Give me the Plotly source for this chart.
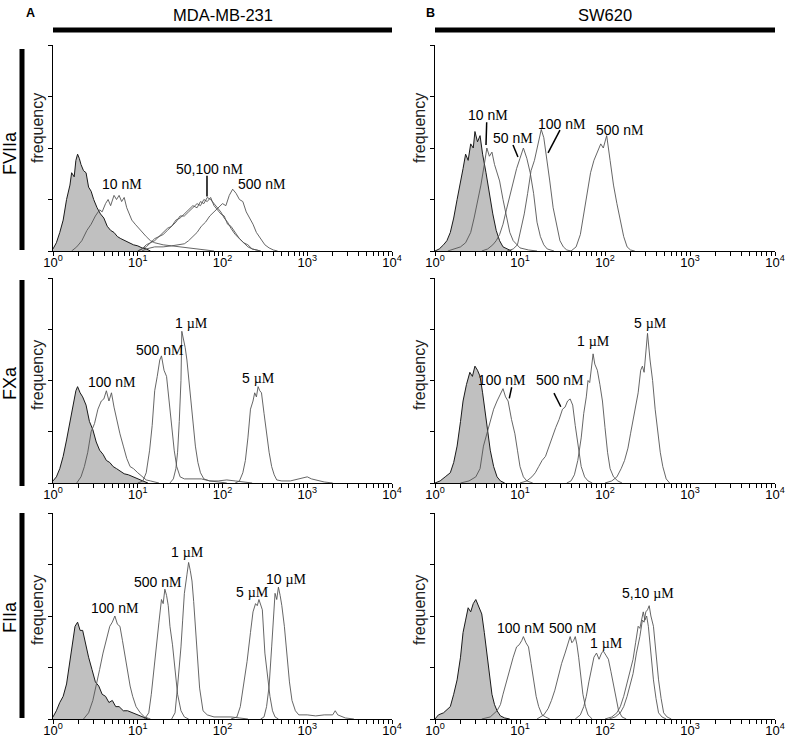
import plotly.graph_objects as go

# ---------------- data (log10 fluorescence, frequency) ----------------
# Row 1: FVIIa
ctrl_A1_lx = [0.0,0.04,0.08,0.12,0.16,0.20,0.22,0.25,0.27,0.29,0.31,0.33,0.36,0.39,0.42,0.45,0.48,0.52,0.56,0.60,0.64,0.68,0.72,0.76,0.80,0.85,0.90,0.95,1.00,1.05,1.10,1.15]
ctrl_A1_y  = [1,4,9,15,25,32,38,36,44,47,45,42,39,38,31,29,25,21,18,16,12,10,9,7,6,5,4,3,2.5,1.5,1,0]
A1_10nM_lx = [0.22,0.28,0.34,0.40,0.45,0.50,0.55,0.58,0.62,0.65,0.68,0.72,0.75,0.78,0.81,0.84,0.87,0.90,0.93,0.97,1.01,1.05,1.10,1.15,1.20,1.25,1.30,1.40,1.50,1.60,1.70,1.80,1.90]
A1_10nM_y  = [0,2,5,10,13,17,20,19,23,25,22,27,25,27,24,26,21,18,15,13,11,9,7,5,4,3.5,3,2.5,2,1.5,1,0.5,0]
A1_50nM_lx = [1.0,1.05,1.10,1.15,1.20,1.25,1.30,1.35,1.40,1.45,1.50,1.55,1.60,1.65,1.70,1.74,1.78,1.82,1.86,1.90,1.94,1.98,2.02,2.06,2.10,2.15,2.20,2.25,2.30,2.35,2.40,2.45]
A1_50nM_y  = [0,1,3,4,5,7,9,11,12,15,16,18,20,22,21,24,23,26,25,23,21,19,16,14,11,8,6,4,2,1,0.5,0]
A1_100nM_lx = A1_50nM_lx
A1_100nM_y = [0,1,2,4,6,7,8,10,12,14,17,17,19,21,23,22,25,24,26,22,20,18,17,13,12,9,6,4,3,1,0.5,0]
A1_500nM_lx = [1.05,1.10,1.20,1.30,1.40,1.50,1.55,1.60,1.65,1.70,1.75,1.80,1.85,1.90,1.95,2.00,2.04,2.08,2.12,2.16,2.20,2.24,2.28,2.32,2.36,2.40,2.45,2.50,2.55,2.60,2.65]
A1_500nM_y = [0,1,2,2,2.5,3,3.5,5,7,9,12,14,17,19,21,23,22,27,30,28,25,24,19,16,13,9,6,3,1.5,0.5,0]

ctrl_B1_lx = [0.0,0.05,0.10,0.14,0.18,0.22,0.26,0.30,0.33,0.36,0.39,0.42,0.45,0.47,0.50,0.53,0.56,0.60,0.64,0.68,0.72,0.76,0.80,0.85,0.90]
ctrl_B1_y  = [0,1,3,5,9,16,25,33,40,47,44,52,50,58,53,56,47,38,27,18,10,5,2,1,0]
B1_10nM_lx = [0.15,0.22,0.30,0.36,0.42,0.46,0.50,0.54,0.58,0.61,0.64,0.67,0.70,0.73,0.76,0.80,0.84,0.88,0.92,0.96,1.00,1.10,1.20]
B1_10nM_y  = [0,1,2,4,9,16,24,32,42,50,46,48,42,38,34,25,17,9,5,3,1.5,0.5,0]
B1_50nM_lx = [0.55,0.62,0.68,0.72,0.76,0.80,0.84,0.88,0.92,0.96,1.00,1.04,1.08,1.12,1.16,1.20,1.24,1.28,1.32,1.40]
B1_50nM_y  = [0,1,3,5,8,13,20,27,34,40,45,50,45,38,28,14,7,3,1,0]
B1_100nM_lx = [0.85,0.92,0.97,1.01,1.05,1.09,1.13,1.17,1.21,1.25,1.28,1.31,1.35,1.39,1.43,1.47,1.51,1.55,1.60]
B1_100nM_y = [0,1,3,10,18,28,39,44,52,59,55,47,34,21,12,5,2,0.5,0]
B1_500nM_lx = [1.60,1.66,1.71,1.75,1.79,1.83,1.87,1.91,1.95,1.98,2.02,2.06,2.10,2.14,2.18,2.22,2.26,2.30,2.35]
B1_500nM_y = [0,2,8,18,27,38,44,48,52,50,56,44,32,23,15,7,2,0.5,0]

# Row 2: FXa
ctrl_A2_lx = [0.0,0.04,0.08,0.12,0.16,0.20,0.24,0.27,0.29,0.32,0.35,0.39,0.43,0.47,0.51,0.55,0.59,0.63,0.67,0.71,0.75,0.79,0.84,0.89,0.94,1.00,1.06,1.12]
ctrl_A2_y  = [1,3,7,13,21,30,39,45,47,44,42,38,30,26,20,16,14,11,10,8,7,6,4.5,4,3,2,1,0]
A2_100nM_lx = [0.28,0.33,0.37,0.41,0.45,0.49,0.53,0.57,0.60,0.63,0.66,0.69,0.72,0.75,0.79,0.83,0.87,0.91,0.95,1.00,1.05,1.10,1.15,1.25]
A2_100nM_y = [0,3,8,15,25,29,36,40,41,45,40,44,37,31,24,18,12,8,7,5,3,1.5,1,0]
A2_500nM_lx = [1.00,1.06,1.10,1.14,1.17,1.20,1.23,1.26,1.28,1.31,1.34,1.37,1.40,1.43,1.46,1.50,1.55,1.65,1.75,1.85,1.95,2.05]
A2_500nM_y = [0,1,5,16,28,45,52,60,62,55,52,40,28,16,8,3,2,2,2,1,0.5,0]
A2_1uM_lx = [1.38,1.42,1.45,1.47,1.49,1.51,1.52,1.54,1.56,1.58,1.60,1.62,1.65,1.68,1.71,1.74,1.78,1.85,1.95,2.05,2.15,2.25,2.35]
A2_1uM_y  = [0,2,7,15,30,50,74,70,66,60,52,44,30,18,10,5,2,1,1,1.5,1,0.5,0]
A2_5uM_lx = [2.15,2.20,2.24,2.27,2.30,2.33,2.36,2.38,2.40,2.42,2.44,2.46,2.49,2.52,2.55,2.58,2.61,2.64,2.70,2.80,2.90,2.95,3.00,3.05,3.10,3.20,3.30]
A2_5uM_y  = [0,1,5,11,22,36,40,44,42,47,45,44,34,24,15,8,4,1.5,1,1,2,2.5,3,2,1.5,0.5,0]

ctrl_B2_lx = [0.0,0.06,0.12,0.18,0.22,0.26,0.30,0.33,0.37,0.41,0.44,0.47,0.50,0.53,0.56,0.59,0.62,0.65,0.69,0.73,0.77,0.82]
ctrl_B2_y  = [0,1,3,5,10,18,30,40,48,54,52,57,55,52,44,34,26,16,8,3,1,0]
B2_100nM_lx = [0.30,0.40,0.48,0.53,0.57,0.61,0.65,0.69,0.73,0.77,0.80,0.83,0.86,0.90,0.94,0.97,1.00,1.04,1.08,1.15]
B2_100nM_y = [0,1,3,7,18,24,31,36,40,43,46,42,40,31,24,16,8,3,1,0]
B2_500nM_lx = [1.00,1.08,1.14,1.18,1.22,1.26,1.30,1.34,1.38,1.42,1.46,1.50,1.53,1.56,1.59,1.62,1.65,1.68,1.72,1.76,1.80,1.85]
B2_500nM_y = [0,1,3,5,8,11,13,18,23,27,31,36,37,40,41,38,28,20,8,3,1,0]
B2_1uM_lx = [1.55,1.60,1.64,1.68,1.72,1.75,1.78,1.80,1.82,1.84,1.86,1.88,1.91,1.94,1.97,2.00,2.03,2.06,2.10,2.15,2.20]
B2_1uM_y  = [0,1,4,11,22,34,42,50,49,56,63,58,55,48,40,27,15,7,3,1,0]
B2_5uM_lx = [2.00,2.08,2.14,2.19,2.23,2.27,2.30,2.33,2.36,2.39,2.42,2.44,2.46,2.48,2.50,2.53,2.56,2.59,2.62,2.65,2.68,2.72,2.76]
B2_5uM_y  = [0,1,3,7,11,17,24,31,39,44,55,57,54,64,73,60,50,36,26,15,8,2,0]

# Row 3: FIIa
ctrl_A3_lx = [0.0,0.04,0.08,0.12,0.16,0.20,0.23,0.26,0.29,0.32,0.35,0.38,0.42,0.46,0.50,0.54,0.58,0.62,0.66,0.70,0.74,0.78,0.83,0.88,0.94,1.00,1.06,1.12]
ctrl_A3_y  = [1,4,8,11,17,28,38,45,47,43,43,37,30,24,18,16,12,11,8,9,6,6,4,4,3,2,1,0]
A3_100nM_lx = [0.36,0.42,0.47,0.51,0.55,0.59,0.63,0.67,0.70,0.73,0.76,0.79,0.82,0.85,0.88,0.91,0.94,0.98,1.03,1.08,1.15]
A3_100nM_y = [0,3,9,16,24,32,38,45,47,50,46,45,38,30,22,16,11,6,3,1,0]
A3_500nM_lx = [1.08,1.13,1.16,1.19,1.22,1.25,1.28,1.30,1.32,1.34,1.36,1.38,1.41,1.44,1.47,1.51,1.55,1.60]
A3_500nM_y = [0,3,12,24,38,47,58,56,63,60,55,45,36,22,12,4,1,0]
A3_1uM_lx = [1.40,1.44,1.47,1.49,1.51,1.53,1.55,1.58,1.60,1.62,1.64,1.66,1.68,1.70,1.73,1.77,1.82,1.90,2.00,2.10,2.20,2.30]
A3_1uM_y  = [0,3,16,25,35,48,61,70,76,72,67,57,45,30,15,4,2,1,1,1,0.5,0]
A3_5uM_lx = [2.10,2.17,2.21,2.25,2.29,2.33,2.36,2.39,2.41,2.43,2.45,2.47,2.50,2.53,2.56,2.59,2.62,2.66]
A3_5uM_y  = [0,1,6,16,28,42,52,56,55,58,55,53,32,20,11,4,1,0]
A3_10uM_lx = [2.45,2.49,2.52,2.55,2.58,2.60,2.62,2.64,2.66,2.68,2.70,2.73,2.76,2.79,2.82,2.86,2.90,3.00,3.10,3.20,3.30,3.33,3.36,3.45,3.55]
A3_10uM_y  = [0,1,6,16,35,48,61,58,64,60,55,45,32,18,9,4,2,2,1.5,2,2,4,2,0.5,0]

ctrl_B3_lx = [0.0,0.04,0.10,0.18,0.22,0.26,0.30,0.33,0.36,0.39,0.42,0.45,0.48,0.51,0.55,0.58,0.61,0.64,0.67,0.70,0.73,0.77,0.82,0.88]
ctrl_B3_y  = [0,2,3,6,12,19,30,42,48,54,52,56,58,55,51,42,32,22,12,7,4,1.5,0.5,0]
B3_100nM_lx = [0.55,0.65,0.73,0.77,0.80,0.84,0.88,0.92,0.96,0.99,1.02,1.04,1.07,1.10,1.13,1.16,1.19,1.22,1.26,1.30,1.35]
B3_100nM_y = [0,1,4,7,12,18,25,30,35,36,38,40,37,35,27,19,11,6,2,1,0]
B3_500nM_lx = [1.20,1.28,1.33,1.37,1.41,1.45,1.49,1.53,1.56,1.59,1.61,1.63,1.65,1.67,1.69,1.71,1.74,1.77,1.80,1.85]
B3_500nM_y = [0,2,5,9,14,21,27,32,36,40,37,38,40,36,30,22,12,6,2,0]
B3_1uM_lx = [1.65,1.71,1.75,1.78,1.81,1.84,1.87,1.90,1.93,1.96,1.98,2.01,2.04,2.07,2.10,2.13,2.16,2.20,2.25]
B3_1uM_y  = [0,2,6,11,18,25,30,32,29,32,33,31,29,23,16,9,4,1,0]
B3_5uM_lx = [2.00,2.08,2.14,2.18,2.22,2.25,2.29,2.33,2.36,2.39,2.41,2.43,2.45,2.47,2.49,2.51,2.54,2.57,2.60,2.63,2.67,2.72]
B3_5uM_y  = [0,1,3,6,11,16,23,29,37,45,44,49,52,48,50,45,30,19,10,3,1,0]
B3_10uM_lx = [2.05,2.12,2.18,2.22,2.26,2.29,2.33,2.37,2.41,2.44,2.46,2.48,2.50,2.52,2.54,2.57,2.60,2.63,2.66,2.69,2.73,2.78]
B3_10uM_y  = [0,1,3,6,11,16,22,32,40,48,47,52,53,55,50,45,32,19,10,3,1,0]

decade_ticks = [1, 10, 100, 1000, 10000]
decade_labels = ["10<sup>0</sup>", "10<sup>1</sup>", "10<sup>2</sup>", "10<sup>3</sup>", "10<sup>4</sup>"]
col_titles = ["MDA-MB-231", "SW620"]
col_letters = ["A", "B"]
row_titles = ["FVIIa", "FXa", "FIIa"]

SER = "<span style='font-family:Liberation Serif'>%s</span>"
def nm(s):
    return s + " n" + SER % "M"
def um(s):
    return s + " " + SER % "µM"

# panels: (control, [curves], [(label, lx, y)], [pointer lines (lx0,y0,lx1,y1)])
panels = [
    ((ctrl_A1_lx, ctrl_A1_y),
     [(A1_10nM_lx, A1_10nM_y), (A1_50nM_lx, A1_50nM_y), (A1_100nM_lx, A1_100nM_y), (A1_500nM_lx, A1_500nM_y)],
     [(nm("10"), 0.81, 32.5), (nm("50,100"), 1.85, 40), (nm("500"), 2.47, 32.5)],
     [(1.817, 36.5, 1.817, 26.5)]),
    ((ctrl_B1_lx, ctrl_B1_y),
     [(B1_10nM_lx, B1_10nM_y), (B1_50nM_lx, B1_50nM_y), (B1_100nM_lx, B1_100nM_y), (B1_500nM_lx, B1_500nM_y)],
     [(nm("10"), 0.62, 66), (nm("50"), 0.92, 55), (nm("100"), 1.49, 61.7), (nm("500"), 2.18, 58.7)],
     [(0.608, 62.5, 0.60, 51.5), (0.918, 51.5, 0.976, 45.6), (1.47, 58.7, 1.33, 47.6)]),
    ((ctrl_A2_lx, ctrl_A2_y),
     [(A2_100nM_lx, A2_100nM_y), (A2_500nM_lx, A2_500nM_y), (A2_1uM_lx, A2_1uM_y), (A2_5uM_lx, A2_5uM_y)],
     [(nm("100"), 0.70, 49.3), (nm("500"), 1.26, 64.9), (um("1"), 1.63, 78), (um("5"), 2.42, 51.2)],
     []),
    ((ctrl_B2_lx, ctrl_B2_y),
     [(B2_100nM_lx, B2_100nM_y), (B2_500nM_lx, B2_500nM_y), (B2_1uM_lx, B2_1uM_y), (B2_5uM_lx, B2_5uM_y)],
     [(nm("100"), 0.79, 50.2), (nm("500"), 1.47, 50.2), (um("1"), 1.86, 69.4), (um("5"), 2.53, 78.2)],
     [(0.902, 46.7, 0.874, 41.3), (1.40, 43.8, 1.48, 37.2)]),
    ((ctrl_A3_lx, ctrl_A3_y),
     [(A3_100nM_lx, A3_100nM_y), (A3_500nM_lx, A3_500nM_y), (A3_1uM_lx, A3_1uM_y), (A3_5uM_lx, A3_5uM_y), (A3_10uM_lx, A3_10uM_y)],
     [(nm("100"), 0.73, 53.9), (nm("500"), 1.24, 66.5), (um("1"), 1.59, 81), (um("5"), 2.35, 61.7), (um("10"), 2.76, 68)],
     []),
    ((ctrl_B3_lx, ctrl_B3_y),
     [(B3_100nM_lx, B3_100nM_y), (B3_500nM_lx, B3_500nM_y), (B3_1uM_lx, B3_1uM_y), (B3_5uM_lx, B3_5uM_y), (B3_10uM_lx, B3_10uM_y)],
     [(nm("100"), 1.01, 44.2), (nm("500"), 1.62, 44.2), (um("1"), 2.02, 36.9), (um("5,10"), 2.51, 61.2)],
     []),
]

W, H = 787, 739
def px(x):
    return x / W
def py(y):
    return 1 - y / H

x_domains = [(px(53), px(392)), (px(435), px(775))]
y_domains = [(py(251), py(45)), (py(483), py(278)), (py(719), py(513))]

FONT = "Liberation Sans, Arial, sans-serif"
fig = go.Figure()
layout = dict(template="none", width=W, height=H, margin=dict(l=0, r=0, t=0, b=0, pad=0),
              autosize=False,
              paper_bgcolor="white", plot_bgcolor="white", showlegend=False,
              font=dict(family=FONT, color="black"))
annotations = []
shapes = []

for i, (ctrl, curves, labels, pointers) in enumerate(panels):
    r, c = divmod(i, 2)
    n = i + 1
    xa = "x" if n == 1 else "x%d" % n
    ya = "y" if n == 1 else "y%d" % n
    layout["xaxis" if n == 1 else "xaxis%d" % n] = dict(
        type="log", range=[0, 4], domain=x_domains[c], anchor=ya, automargin=False,
        showline=True, linecolor="black", linewidth=1.3, mirror=False,
        ticks="outside", ticklen=4, tickwidth=1, tickcolor="black",
        tickmode="array", tickvals=decade_ticks, ticktext=decade_labels,
        ticklabelstandoff=-5,
        tickfont=dict(size=13, family=FONT), showgrid=False, zeroline=False,
        minor=dict(ticks="outside", ticklen=4, tickwidth=1, tickcolor="black",
                   dtick="D1", showgrid=False),
    )
    layout["yaxis" if n == 1 else "yaxis%d" % n] = dict(
        range=[0, 100], domain=y_domains[r], anchor=xa, automargin=False,
        showline=True, linecolor="black", linewidth=1.3,
        ticks="outside", ticklen=4, tickwidth=1, tickcolor="black",
        tickmode="array", tickvals=[0, 25, 50, 75, 100], showticklabels=False,
        showgrid=False, zeroline=False,
    )
    fig.add_trace(go.Scatter(
        x=[10 ** v for v in ctrl[0]], y=ctrl[1], xaxis=xa, yaxis=ya,
        mode="lines", fill="tozeroy", fillcolor="#c0c0c0",
        line=dict(color="#1a1a1a", width=1), hoverinfo="skip"))
    for lx, yy in curves:
        fig.add_trace(go.Scatter(
            x=[10 ** v for v in lx], y=yy, xaxis=xa, yaxis=ya,
            mode="lines", line=dict(color="#555555", width=0.9), hoverinfo="skip"))
    for text, lx, yv in labels:
        annotations.append(dict(x=lx, y=yv, xref=xa, yref=ya, text=text,
                                showarrow=False, font=dict(size=14, family=FONT),
                                xanchor="center", yanchor="middle"))
    for (x0, y0, x1, y1) in pointers:
        shapes.append(dict(type="line", xref=xa, yref=ya,
                           x0=10 ** x0, y0=y0, x1=10 ** x1, y1=y1,
                           line=dict(color="black", width=1.5)))
    # "frequency" label
    fx = 37 if c == 0 else 419
    fy = [128, 375, 610][r]
    annotations.append(dict(x=px(fx), y=py(fy), xref="paper", yref="paper",
                            text="frequency", textangle=-90, showarrow=False,
                            font=dict(size=16, family=FONT, color="#222222"),
                            xanchor="center", yanchor="middle"))

# column headers and bars
for c in range(2):
    x0, x1 = x_domains[c]
    annotations.append(dict(x=(x0 + x1) / 2, y=py(15), xref="paper", yref="paper",
                            text=col_titles[c], showarrow=False,
                            font=dict(size=16.5, family=FONT), xanchor="center", yanchor="middle"))
    annotations.append(dict(x=px([30, 430][c]), y=py(13), xref="paper", yref="paper",
                            text="<b>%s</b>" % col_letters[c], showarrow=False,
                            font=dict(size=12.5, family=FONT), xanchor="center", yanchor="middle"))
    shapes.append(dict(type="line", xref="paper", yref="paper", x0=x0, x1=x1,
                       y0=py(30), y1=py(30), line=dict(color="black", width=5)))

# row labels and vertical bars
row_bar = [(49, 250), (280, 486), (513, 718)]
row_lab_y = [153, 383, 617]
for r in range(3):
    shapes.append(dict(type="line", xref="paper", yref="paper", x0=px(22), x1=px(22),
                       y0=py(row_bar[r][0]), y1=py(row_bar[r][1]),
                       line=dict(color="black", width=5)))
    annotations.append(dict(x=px(10), y=py(row_lab_y[r]), xref="paper", yref="paper",
                            text=row_titles[r], textangle=-90, showarrow=False,
                            font=dict(size=18, family=FONT), xanchor="center", yanchor="middle"))

layout["annotations"] = annotations
layout["shapes"] = shapes
fig.update_layout(**layout)
fig.write_html("out.html", config={"displayModeBar": False},
               post_script="document.body.style.margin='0';document.body.style.padding='0';")
